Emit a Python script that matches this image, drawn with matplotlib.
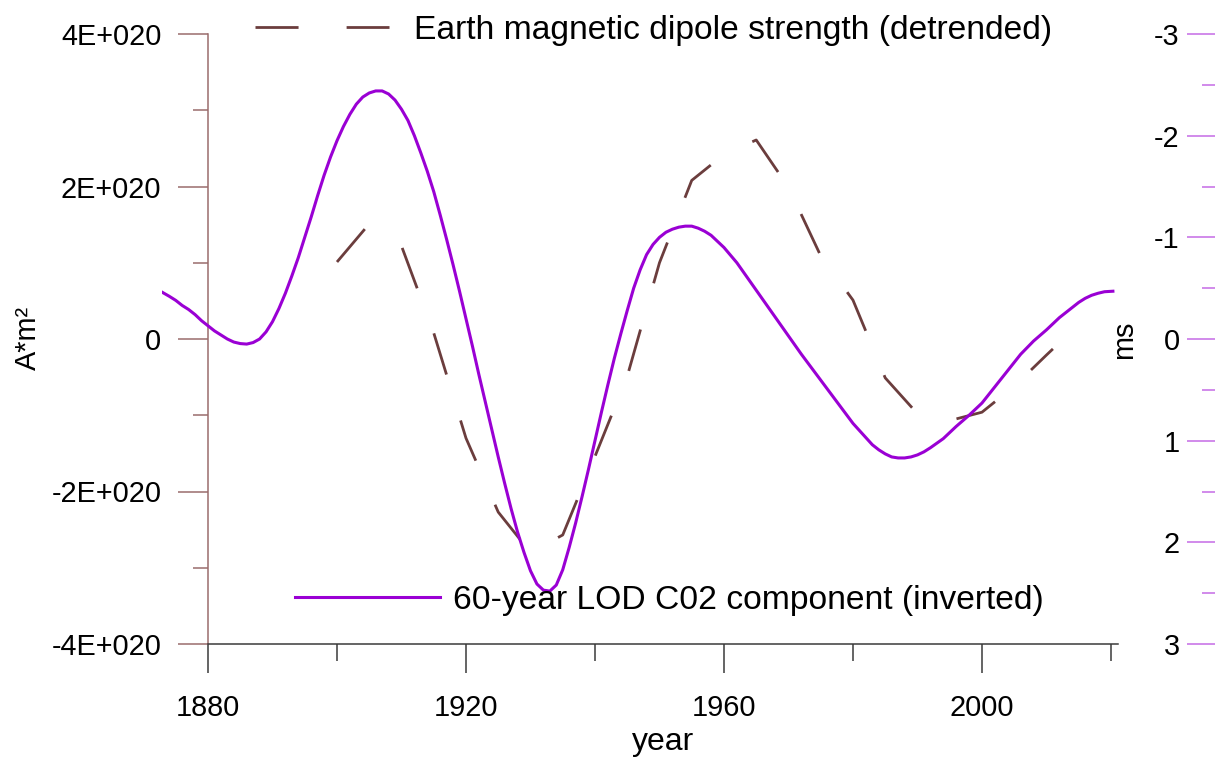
import matplotlib
matplotlib.use("Agg")
import matplotlib.pyplot as plt
from matplotlib.lines import Line2D

plt.rcParams['font.family'] = ['Liberation Sans', 'DejaVu Sans']
plt.rcParams['axes.unicode_minus'] = False
plt.rcParams['lines.scale_dashes'] = False

# ---- data ----
dipole_years = [1900, 1905, 1910, 1915, 1920, 1925, 1930, 1935, 1940, 1945, 1950,
                1955, 1960, 1965, 1970, 1975, 1980, 1985, 1990, 1995, 2000, 2005,
                2010, 2011]
dipole_e20 = [1.01, 1.51, 1.22, 0.08, -1.30, -2.27, -2.80, -2.57, -1.54, -0.49, 1.00,
              2.08, 2.42, 2.61, 1.99, 1.09, 0.51, -0.51, -0.98, -1.07, -0.96, -0.62,
              -0.21, -0.13]

lod_years = [1872.9, 1874, 1875, 1876, 1877, 1878, 1879, 1880, 1881, 1882, 1883,
             1884, 1885, 1886, 1887, 1888, 1889, 1890, 1891, 1892, 1893, 1894,
             1895, 1896, 1897, 1898, 1899, 1900, 1901, 1902, 1903, 1904, 1905,
             1906, 1907, 1908, 1909, 1910, 1911, 1912, 1913, 1914, 1915, 1916,
             1917, 1918, 1919, 1920, 1921, 1922, 1923, 1924, 1925, 1926, 1927,
             1928, 1929, 1930, 1931, 1932, 1933, 1934, 1935, 1936, 1937, 1938,
             1939, 1940, 1941, 1942, 1943, 1944, 1945, 1946, 1947, 1948, 1949,
             1950, 1951, 1952, 1953, 1954, 1955, 1956, 1957, 1958, 1959, 1960,
             1962, 1964, 1966, 1968, 1970, 1972, 1974, 1976, 1978, 1980, 1981,
             1982, 1983, 1984, 1985, 1986, 1987, 1988, 1989, 1990, 1991, 1992,
             1994, 1996, 1998, 2000, 2002, 2004, 2006, 2008, 2010, 2012, 2014,
             2015, 2016, 2017, 2018, 2019, 2020.3]
lod_ms = [-0.46, -0.42, -0.38, -0.33, -0.29, -0.24, -0.18, -0.13, -0.08, -0.04, 0.00,
          0.03, 0.045, 0.05, 0.035, 0.0, -0.07, -0.17, -0.30, -0.45, -0.62, -0.80,
          -1.00, -1.20, -1.41, -1.61, -1.79, -1.95, -2.09, -2.21, -2.31, -2.38, -2.42,
          -2.44, -2.44, -2.41, -2.35, -2.26, -2.15, -2.00, -1.83, -1.65, -1.45, -1.22,
          -0.98, -0.73, -0.47, -0.20, 0.07, 0.35, 0.62, 0.89, 1.16, 1.42, 1.67,
          1.90, 2.10, 2.28, 2.41, 2.47, 2.48, 2.42, 2.27, 2.05, 1.81, 1.55,
          1.28, 1.00, 0.72, 0.45, 0.19, -0.05, -0.28, -0.50, -0.68, -0.83, -0.93,
          -1.00, -1.05, -1.08, -1.10, -1.11, -1.11, -1.09, -1.06, -1.02, -0.96, -0.90,
          -0.75, -0.57, -0.39, -0.21, -0.03, 0.15, 0.32, 0.49, 0.66, 0.83, 0.90,
          0.97, 1.04, 1.09, 1.13, 1.16, 1.17, 1.17, 1.16, 1.14, 1.11, 1.07,
          0.98, 0.86, 0.75, 0.63, 0.47, 0.31, 0.15, 0.02, -0.09, -0.21, -0.31,
          -0.36, -0.40, -0.43, -0.45, -0.465, -0.47]

left_ticks = [-4e20, -2e20, 0, 2e20, 4e20]
left_labels = ['-4E+020', '-2E+020', '0', '2E+020', '4E+020']
left_minor = [-3e20, -1e20, 1e20, 3e20]
right_ticks = [-3, -2, -1, 0, 1, 2, 3]
right_minor = [-2.5, -1.5, -0.5, 0.5, 1.5, 2.5]
x_major = [1880, 1920, 1960, 2000]
x_minor = [1900, 1940, 1980, 2020]

label_dipole = 'Earth magnetic dipole strength (detrended)'
label_lod = '60-year LOD C02 component (inverted)'

# ---- colours / geometry ----
PURPLE = '#9A00D4'
BROWN = '#6B3D3D'
LSPINE = '#9A6C6C'
RTICK = '#C56BE6'
BOT = '#3A3A3A'
W, H = 1215, 758
TICKFS = 20.8

fig = plt.figure(figsize=(W / 100, H / 100), dpi=100)
ax = fig.add_axes([162 / W, 1 - 644 / H, 956 / W, 610 / H])
ax.set_xlim(1872.87, 2021.09)
ax.set_ylim(-4e20, 4e20)

ax.plot(dipole_years, [v * 1e20 for v in dipole_e20], color=BROWN, lw=2.0,
        linestyle=(0, (31, 34.6)), dash_capstyle='butt', dash_joinstyle='round')

for s in ['top', 'right']:
    ax.spines[s].set_visible(False)
ax.spines['left'].set_position(('data', 1880))
ax.spines['left'].set_color(LSPINE)
ax.spines['left'].set_linewidth(1.1)
ax.spines['bottom'].set_color(BOT)
ax.spines['bottom'].set_linewidth(1.1)
ax.spines['bottom'].set_bounds(1880, 2021.09)

ax.set_yticks(left_ticks)
ax.set_yticklabels(left_labels)
ax.set_yticks(left_minor, minor=True)
ax.tick_params(axis='y', which='major', length=21.6, width=1.1, color=LSPINE,
               labelsize=TICKFS, pad=12, direction='out')
ax.tick_params(axis='y', which='minor', length=10.8, width=1.1, color=LSPINE,
               direction='out')

ax.set_xticks(x_major)
ax.set_xticks(x_minor, minor=True)
ax.tick_params(axis='x', which='major', length=21, width=1.1, color=BOT,
               labelsize=TICKFS, pad=15, direction='out')
ax.tick_params(axis='x', which='minor', length=12, width=1.1, color=BOT,
               direction='out')

ax.set_xlabel('year', fontsize=23)
ax.xaxis.set_label_coords((663 - 162) / 956, -(758 - 644 - 1) / 610)
ax.xaxis.label.set_va('bottom')
ax.set_ylabel('A*m²', fontsize=TICKFS)
ax.yaxis.set_label_coords((42 - 162) / 956, (644 - 338) / 610)

# ---- right (ms, inverted) axis ----
ax2 = ax.twinx()
ax2.set_ylim(3, -3)
ax2.plot(lod_years, lod_ms, color=PURPLE, lw=2.2, solid_joinstyle='round')
for s in ['top', 'right', 'bottom']:
    ax2.spines[s].set_visible(False)
ax2.yaxis.set_ticks_position('left')
ax2.spines['left'].set_position(('axes', (1215 - 162) / 956))
ax2.spines['left'].set_visible(False)
ax2.set_yticks(right_ticks)
ax2.set_yticklabels([str(t) for t in right_ticks])
ax2.set_yticks(right_minor, minor=True)
ax2.tick_params(axis='y', which='major', length=20.5, width=1.1, color=RTICK,
                labelsize=TICKFS, pad=5, direction='out')
ax2.tick_params(axis='y', which='minor', length=9.5, width=1.1, color=RTICK,
                direction='out')
ax2.set_ylabel('ms', fontsize=TICKFS)
ax2.yaxis.set_label_position('left')
ax2.yaxis.set_label_coords((1138 - 162) / 956, (644 - 340) / 610)

# ---- legends ----
h_dip = Line2D([], [], color=BROWN, lw=2.0, linestyle=(0, (31, 34.6)))
h_lod = Line2D([], [], color=PURPLE, lw=2.2)
leg1 = ax2.legend(handles=[h_dip], labels=[label_dipole], loc='center left',
                  bbox_to_anchor=(255 / W, 1 - 30 / H), bbox_transform=fig.transFigure,
                  frameon=False, borderpad=0, borderaxespad=0, fontsize=24.2,
                  handlelength=134 / 33.6, handletextpad=25 / 33.6)
ax2.add_artist(leg1)
leg2 = ax2.legend(handles=[h_lod], labels=[label_lod], loc='center left',
                  bbox_to_anchor=(295 / W, 1 - 600 / H), bbox_transform=fig.transFigure,
                  frameon=False, borderpad=0, borderaxespad=0, fontsize=24.2,
                  handlelength=145 / 33.6, handletextpad=13 / 33.6)

fig.savefig('out.png', dpi=100)
